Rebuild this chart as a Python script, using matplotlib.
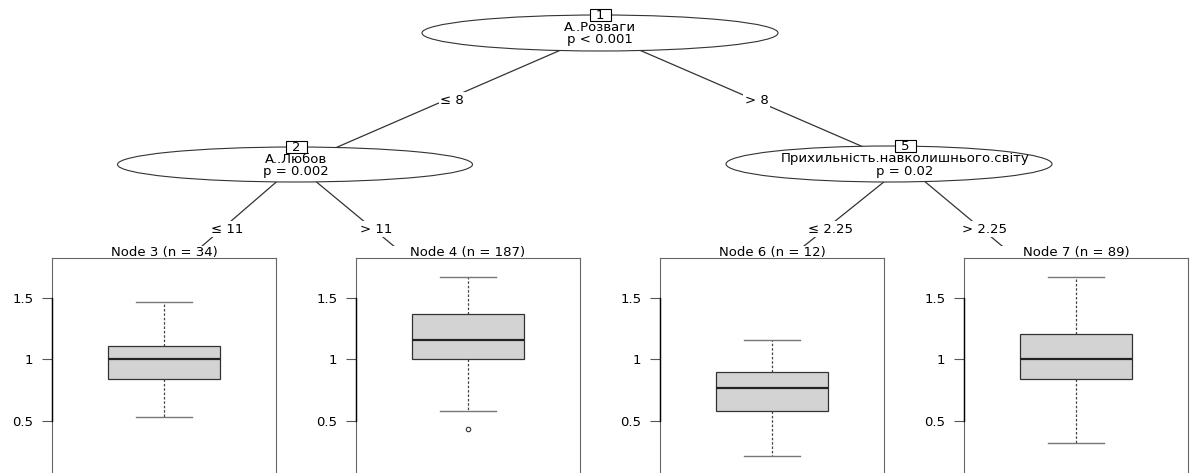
import matplotlib
matplotlib.use('Agg')
import matplotlib.pyplot as plt
from matplotlib.patches import Ellipse, Rectangle

plt.rcParams['font.family'] = ['DejaVu Sans']

# inner nodes of the tree
inner_ids = [1, 2, 5]
split_vars = ["A..Розваги", "A..Любов", "Прихильність.навколишнього.світу"]
p_labels = ["p < 0.001", "p = 0.002", "p = 0.02"]

# edges: parent -> child, with split labels
edge_from = [1, 1, 2, 2, 5, 5]
edge_to = [2, 5, 3, 4, 6, 7]
edge_labels = ["≤ 8", "> 8", "≤ 11", "> 11", "≤ 2.25", "> 2.25"]

# terminal nodes (boxplots)
terminal_ids = [3, 4, 6, 7]
n_obs = [34, 187, 12, 89]
medians = [1.0, 1.16, 0.77, 1.0]
q1 = [0.84, 1.0, 0.58, 0.84]
q3 = [1.11, 1.37, 0.90, 1.21]
whis_lo = [0.53, 0.58, 0.215, 0.32]
whis_hi = [1.47, 1.67, 1.16, 1.67]
outliers = [[], [0.43], [], []]

y_ticks = [0.5, 1.0, 1.5]
y_ticklabels = ["0.5", "1", "1.5"]

# layout in pixels (figure is 1191 x 473)
W, H = 1191, 473
node_xy = {1: (600, 33), 2: (296, 165), 5: (905, 165),
           3: (150, 291), 4: (448, 291), 6: (748, 291), 7: (1056, 291)}
ellipse_geom = {1: (600, 33, 356, 36), 2: (295, 164.5, 355, 35), 5: (889, 164, 326, 36)}
panel_left = [52, 356, 660, 964]
panel_w = 224
panel_top = 258
panel_bottom = 474
ylim = (0.068, 1.825)

fig = plt.figure(figsize=(W / 100, H / 100), dpi=100)
tree = fig.add_axes([0, 0, 1, 1])
tree.set_xlim(0, W)
tree.set_ylim(H, 0)
tree.axis('off')

line_col = '#333333'
fs = 9.5

# edges and their labels
for a, b, lab in zip(edge_from, edge_to, edge_labels):
    x0, y0 = node_xy[a]
    x1, y1 = node_xy[b]
    tree.plot([x0, x1], [y0, y1], color=line_col, lw=0.9, zorder=1)
    tree.text((x0 + x1) / 2 + 4, (y0 + y1) / 2 + 1, lab, fontsize=fs,
              ha='center', va='center', zorder=3,
              bbox=dict(facecolor='white', edgecolor='none', pad=1.0))

# inner nodes
for nid, var, p in zip(inner_ids, split_vars, p_labels):
    ex, ey, ew, eh = ellipse_geom[nid]
    tree.add_patch(Ellipse((ex, ey), ew, eh, facecolor='white',
                           edgecolor=line_col, lw=0.8, zorder=2))
    bx, by = node_xy[nid]
    top = ey - eh / 2
    tree.add_patch(Rectangle((bx - 10.5, top - 6), 21, 12, facecolor='white',
                             edgecolor='black', lw=0.8, zorder=3))
    tree.text(bx, top + 0.5, str(nid), fontsize=fs, ha='center', va='center', zorder=4)
    tree.text(bx, ey - 5.5, var, fontsize=fs, ha='center', va='center', zorder=4)
    tree.text(bx, ey + 7, p, fontsize=fs, ha='center', va='center', zorder=4)

# terminal panels
for i, tid in enumerate(terminal_ids):
    left = panel_left[i]
    tree.add_patch(Rectangle((left - 40, 246), panel_w + 48, H - 246,
                             facecolor='white', edgecolor='none', zorder=5))
    tree.text(left + panel_w / 2, 252.5, f"Node {tid} (n = {n_obs[i]})",
              fontsize=fs, ha='center', va='center', zorder=6)

    ax = fig.add_axes([left / W, (H - panel_bottom) / H, panel_w / W,
                       (panel_bottom - panel_top) / H])
    stats = [dict(med=medians[i], q1=q1[i], q3=q3[i], whislo=whis_lo[i],
                  whishi=whis_hi[i], fliers=outliers[i])]
    ax.bxp(stats, positions=[0.5], widths=0.5, capwidths=0.25,
           patch_artist=True,
           boxprops=dict(facecolor='#d3d3d3', edgecolor='#333333', lw=0.9),
           medianprops=dict(color='#222222', lw=1.6),
           whiskerprops=dict(color='#444444', lw=0.9, linestyle=(0, (2, 1.5))),
           capprops=dict(color='#777777', lw=1.0),
           flierprops=dict(marker='o', markersize=3.2, markerfacecolor='none',
                           markeredgecolor='#333333', markeredgewidth=0.8))
    ax.set_xlim(0, 1)
    ax.set_ylim(*ylim)
    ax.set_xticks([])
    ax.set_yticks(y_ticks)
    ax.set_yticklabels(y_ticklabels, fontsize=fs)
    ax.tick_params(axis='y', direction='out', length=7, width=0.8,
                   color='#555555', pad=6.5)
    for s in ax.spines.values():
        s.set_color('#666666')
        s.set_linewidth(0.8)
    ax.plot([0, 0], [y_ticks[0], y_ticks[-1]], color='black', lw=1.0,
            clip_on=False, zorder=10)

fig.savefig('out.png', dpi=100)
